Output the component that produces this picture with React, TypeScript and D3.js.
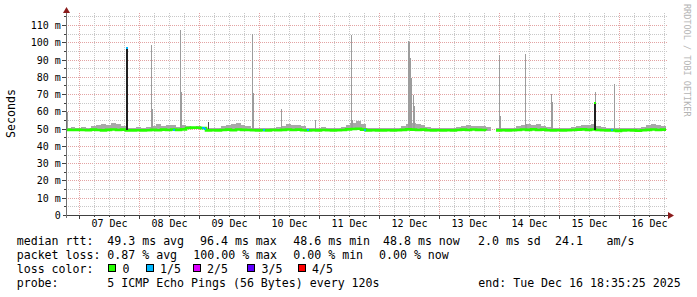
import React from "react";
import * as d3 from "d3";

// ---------- data ----------
const START = new Date(2025, 11, 6, 18, 35, 25);
const END = new Date(2025, 11, 16, 18, 35, 25);
const BUCKET_HOURS = 2;

// median rtt per 2-hour bucket (ms)
const medianMs = [
  49.3, 49.2, 49.3, 49.2, 49.1,
  49.4, 49.2, 49.0, 49.3, 49.5, 49.2, 49.4,
  49.0, 49.0, 49.1, 49.0, 49.1,
  49.3, 49.1, 49.4, 49.2, 49.5,
  49.3, 49.6,
  50.4, 50.6, 50.5, 50.3,
  49.0, 49.1, 49.0,
  49.2, 49.4, 49.1, 49.5, 49.3, 49.2,
  49.1, 49.0, 49.1, 49.0, 49.2, 49.1,
  49.3, 49.5, 49.2, 49.4, 49.1,
  49.0, 49.1, 49.0, 49.2, 49.1, 49.0, 49.1, 49.2,
  49.6, 49.8, 49.9, 49.4,
  49.0, 49.1, 49.0, 49.0, 49.1, 49.0, 49.1,
  49.3, 49.6, 49.4, 49.2, 49.4, 49.1,
  49.0, 49.1, 49.0, 49.1, 49.0,
  49.2, 49.4, 49.2, 49.5, 49.3, 49.2, 49.1,
  NaN,
  49.0, 49.1, 49.0, 49.1,
  49.2, 49.5, 49.3, 49.6, 49.2, 49.4, 49.1,
  49.0, 49.1, 49.0, 49.1,
  49.2, 49.4, 49.6, 49.3, 49.5, 49.2, 49.1,
  49.0, 48.9, 48.7, 49.0, 49.1, 49.0, 48.8, 49.1,
  49.3, 49.5, 49.2, 49.4,
];

// top of the smoke (highest regular ping) per 2-hour bucket (ms)
const smokeTopMs = [
  50.6, 51.2, 50.5, 50.8, 50.6,
  51.6, 52.2, 52.4, 52.0, 53.4, 52.6, 51.8,
  50.5, 50.6, 50.9, 50.5, 50.8,
  51.8, 52.4, 51.6, 52.1, 51.9,
  51.2, 52.0,
  51.3, 51.1, 51.4, 51.0,
  50.2, 50.4, 50.5,
  51.5, 52.1, 52.6, 53.2, 52.2, 51.6,
  50.4, 50.5, 50.3, 50.6, 50.4, 50.7,
  51.6, 52.4, 52.1, 51.9, 51.3,
  50.4, 50.3, 50.6, 50.7, 50.4, 50.5, 50.6, 50.9,
  52.1, 53.1, 54.2, 52.6,
  50.6, 50.3, 50.1, 50.1, 50.2, 50.3, 50.4,
  51.6, 52.6, 53.1, 52.5, 51.9, 51.1,
  50.3, 50.2, 50.4, 50.3, 50.5,
  51.1, 51.6, 51.9, 51.4, 51.7, 51.3, 50.9,
  NaN,
  50.4, 50.3, 50.5, 50.6,
  51.6, 52.1, 52.6, 51.9, 52.4, 51.7, 51.1,
  50.4, 50.3, 50.5, 50.4,
  51.1, 51.6, 52.1, 51.9, 52.4, 51.3, 50.9,
  50.4, 50.3, 50.2, 50.3, 50.4, 50.3, 50.5, 50.9,
  52.1, 52.6, 52.3, 51.6,
];

// isolated smoke spikes (single probe rounds)
const spikeTimes = [
  "2025-12-06T19:00", "2025-12-08T04:43", "2025-12-08T16:19", "2025-12-09T21:07",
  "2025-12-10T08:42", "2025-12-10T22:18", "2025-12-11T12:42",
  "2025-12-12T11:30", "2025-12-12T11:54", "2025-12-12T12:18", "2025-12-12T12:42",
  "2025-12-12T13:30", "2025-12-12T13:54",
  "2025-12-13T23:54", "2025-12-14T10:18", "2025-12-14T20:52",
  "2025-12-15T14:18", "2025-12-15T21:54",
];
const spikeMaxMs = [
  59.6, 98.4, 107.1, 105.0,
  61.4, 55.2, 104.2,
  100.6, 99.9, 90.8, 79.5,
  69.5, 63.0,
  92.4, 93.4, 70.0,
  71.2, 75.8,
];
const spikeMidMs = [
  NaN, 61.2, 71.2, 70.8,
  NaN, NaN, 55.0,
  NaN, NaN, NaN, NaN,
  NaN, NaN,
  57.3, 52.5, 65.4,
  NaN, NaN,
];

const darkSpikeTimes = ["2025-12-09T03:31"];
const darkSpikeMaxMs = [53.8];

// median jumps drawn as black bars, with loss level at their top
const jumpTimes = ["2025-12-07T18:53", "2025-12-15T13:54"];
const jumpTopMs = [96.4, 64.7];
const jumpCapLoss = [1, 0];

// samples with 1/5 loss along the median
const lossDotTimes = [
  "2025-12-08T13:40", "2025-12-09T01:00", "2025-12-09T01:24", "2025-12-09T01:48",
  "2025-12-10T01:40", "2025-12-10T19:00", "2025-12-11T17:48", "2025-12-15T20:52",
];
const lossDotMs = [49.3, 50.4, 50.2, 49.9, 49.1, 49.2, 49.4, 49.0];

const yTicksMs = [0, 10, 20, 30, 40, 50, 60, 70, 80, 90, 100, 110];
const yTickLabels = ["0", "10 m", "20 m", "30 m", "40 m", "50 m", "60 m", "70 m", "80 m", "90 m", "100 m", "110 m"];
const dayLabels = ["07 Dec", "08 Dec", "09 Dec", "10 Dec", "11 Dec", "12 Dec", "13 Dec", "14 Dec", "15 Dec", "16 Dec"];
const dayLabelTimes = [
  "2025-12-07T12:00", "2025-12-08T12:00", "2025-12-09T12:00", "2025-12-10T12:00", "2025-12-11T12:00",
  "2025-12-12T12:00", "2025-12-13T12:00", "2025-12-14T12:00", "2025-12-15T12:00", "2025-12-16T12:00",
];

const lossLabels = ["0", "1/5", "2/5", "3/5", "4/5"];
const lossColors = ["#26ff00", "#00b8ff", "#dd00ff", "#5e00ff", "#ff0000"];

const rttLegend = ["median rtt:", "49.3 ms avg", "96.4 ms max", "48.6 ms min", "48.8 ms now", "2.0 ms sd", "24.1", "am/s"];
const lossLegend = ["packet loss:", "0.87 % avg", "100.00 % max", "0.00 % min", "0.00 % now"];
const colorLegendTitle = "loss color:";
const probeLegend = ["probe:", "5 ICMP Echo Pings (56 Bytes) every 120s", "end: Tue Dec 16 18:35:25 2025"];
const yTitle = "Seconds";
const watermark = "RRDTOOL / TOBI OETIKER";

// ---------- layout ----------
const W = 697;
const H = 297;
const PL = 66, PR = 666, PT = 15, PB = 215;
const Y_MAX = 115.79;
const MONO = "'DejaVu Sans Mono', monospace";
const rttX = [16.7, 107.3, 200, 293.3, 383, 478, 555, 606.5];
const lossX = [16.7, 107.3, 193.3, 293.3, 379];
const swatchX = [108, 145.5, 192.5, 247, 297.5];
const probeX = [16.7, 107.3, 478.3];
const rowY = [245, 259, 273, 287];

export default function App() {
  const x = d3.scaleTime().domain([START, END]).range([PL, PR]);
  const y = d3.scaleLinear().domain([0, Y_MAX]).range([PB, PT]);
  const fx = (t: Date) => Math.floor(x(t));
  const ry = (v: number) => Math.round(y(v));
  const T = (s: string) => new Date(s);
  const bucketTime = (i: number) => d3.timeHour.offset(START, i * BUCKET_HOURS);

  const hGrid = d3.range(5, 116, 5);
  const vGrid = d3.timeHour.every(6)!.range(START, END);

  const medPts: [Date, number][] = medianMs.map((v, i) => [bucketTime(i), v]);
  medPts.push([END, medianMs[medianMs.length - 1]]);
  const medLine = d3
    .line<[Date, number]>()
    .defined((d) => !isNaN(d[1]))
    .x((d) => x(d[0]))
    .y((d) => y(d[1]))
    .curve(d3.curveStepAfter);

  return (
    <div style={{ position: "absolute", left: 0, top: 0 }}>
      <svg width={W} height={H} style={{ display: "block", background: "#fff" }}>
        <rect x={0} y={0} width={W} height={H} fill="#ffffff" />
        {/* grid */}
        <g shapeRendering="crispEdges">
          {hGrid.map((v) => (
            <line
              key={"h" + v}
              x1={PL}
              x2={PR + 2}
              y1={ry(v) + 0.5}
              y2={ry(v) + 0.5}
              stroke={v % 10 === 0 ? "#e3a3a3" : "#c8c8c8"}
              strokeDasharray="1,1"
            />
          ))}
          {vGrid.map((t, i) => (
            <line
              key={"v" + i}
              x1={fx(t) + 0.5}
              x2={fx(t) + 0.5}
              y1={PT - 2}
              y2={PB}
              stroke={t.getHours() === 0 ? "#e3a3a3" : "#c8c8c8"}
              strokeDasharray="1,1"
            />
          ))}
        </g>
        {/* smoke */}
        <g shapeRendering="crispEdges">
          {smokeTopMs.map((top, i) =>
            isNaN(top) ? null : (
              <rect
                key={"s" + i}
                x={fx(bucketTime(i))}
                width={fx(bucketTime(i + 1)) - fx(bucketTime(i))}
                y={ry(top)}
                height={Math.max(0, ry(medianMs[i] - 0.4) - ry(top))}
                fill="#a8a8a8"
              />
            )
          )}
          {spikeTimes.map((s, i) => {
            const t = T(s);
            const base = ry(49.3);
            const mid = spikeMidMs[i];
            return (
              <g key={"sp" + i}>
                <rect x={fx(t)} width={1} y={ry(spikeMaxMs[i])} height={base - ry(spikeMaxMs[i])} fill="#9c9c9c" />
                {!isNaN(mid) && <rect x={fx(t)} width={2} y={ry(mid)} height={base - ry(mid)} fill="#9c9c9c" />}
              </g>
            );
          })}
          {darkSpikeTimes.map((s, i) => (
            <rect
              key={"ds" + i}
              x={fx(T(s))}
              width={1}
              y={ry(darkSpikeMaxMs[i])}
              height={ry(49.3) - ry(darkSpikeMaxMs[i])}
              fill="#505050"
            />
          ))}
        </g>
        {/* median line */}
        <path d={medLine(medPts) || ""} fill="none" stroke={lossColors[0]} strokeWidth={2.6} />
        <g shapeRendering="crispEdges">
          {jumpTimes.map((s, i) => (
            <g key={"j" + i}>
              <rect x={fx(T(s))} width={2} y={ry(jumpTopMs[i])} height={ry(49.2) - ry(jumpTopMs[i])} fill="#202020" />
              <rect x={fx(T(s))} width={2} y={ry(jumpTopMs[i]) - 1} height={2} fill={lossColors[jumpCapLoss[i]]} />
            </g>
          ))}
          {lossDotTimes.map((s, i) => (
            <rect key={"ld" + i} x={fx(T(s))} width={2} y={ry(lossDotMs[i]) - 1} height={2} fill={lossColors[1]} />
          ))}
        </g>
        {/* axes */}
        <g shapeRendering="crispEdges" stroke="#404040">
          <line x1={PL - 3} x2={PR + 3} y1={PB + 0.5} y2={PB + 0.5} />
          <line x1={PL + 0.5} x2={PL + 0.5} y1={PB + 3} y2={PT - 3} stroke="#707070" />
          {hGrid.map((v) => (
            <line key={"yt" + v} x1={v % 10 === 0 ? PL - 4 : PL - 2} x2={PL} y1={ry(v) + 0.5} y2={ry(v) + 0.5} />
          ))}
          {vGrid.map((t, i) => (
            <line key={"xt" + i} x1={fx(t) + 0.5} x2={fx(t) + 0.5} y1={PB} y2={t.getHours() === 0 ? PB + 4 : PB + 2} />
          ))}
        </g>
        <path d={`M${PR + 2},${PB - 3}L${PR + 8},${PB + 0.5}L${PR + 2},${PB + 4}Z`} fill="#8b1c1c" />
        <path d={`M${PL - 3},${PT - 2}L${PL + 0.5},${PT - 8}L${PL + 4},${PT - 2}Z`} fill="#8b1c1c" />
        {/* tick labels */}
        <g fontFamily={MONO} fontSize={10} fill="#000">
          {yTicksMs.map((v, i) => (
            <text key={"yl" + v} x={60.8} y={ry(v) + 0.5 + 3.7} textAnchor="end">
              {yTickLabels[i]}
            </text>
          ))}
          {dayLabels.map((l, i) => (
            <text key={"dl" + i} x={x(T(dayLabelTimes[i]))} y={227.3} textAnchor="middle">
              {l}
            </text>
          ))}
        </g>
        <text
          transform="translate(15,113.5) rotate(-90)"
          fontFamily={MONO}
          fontSize={11.6}
          textAnchor="middle"
          fill="#000"
        >
          {yTitle}
        </text>
        <text transform="translate(684,4) rotate(90)" fontFamily={MONO} fontSize={8.5} fill="#b4b4b4">
          {watermark}
        </text>
        {/* legend */}
        <g fontFamily={MONO} fontSize={11.6} fill="#000" style={{ whiteSpace: "pre" }}>
          {rttLegend.map((s, i) => (
            <text key={"r" + i} x={rttX[i]} y={rowY[0]}>
              {s}
            </text>
          ))}
          {lossLegend.map((s, i) => (
            <text key={"p" + i} x={lossX[i]} y={rowY[1]}>
              {s}
            </text>
          ))}
          <text x={16.7} y={rowY[2]}>
            {colorLegendTitle}
          </text>
          {lossLabels.map((s, i) => (
            <g key={"lc" + i}>
              <rect
                x={swatchX[i] + 0.5}
                y={264.5}
                width={7}
                height={7}
                fill={lossColors[i]}
                stroke="#000"
                shapeRendering="crispEdges"
              />
              <text x={swatchX[i] + 14.5} y={rowY[2]}>
                {s}
              </text>
            </g>
          ))}
          {probeLegend.map((s, i) => (
            <text key={"pr" + i} x={probeX[i]} y={rowY[3]}>
              {s}
            </text>
          ))}
        </g>
      </svg>
    </div>
  );
}
